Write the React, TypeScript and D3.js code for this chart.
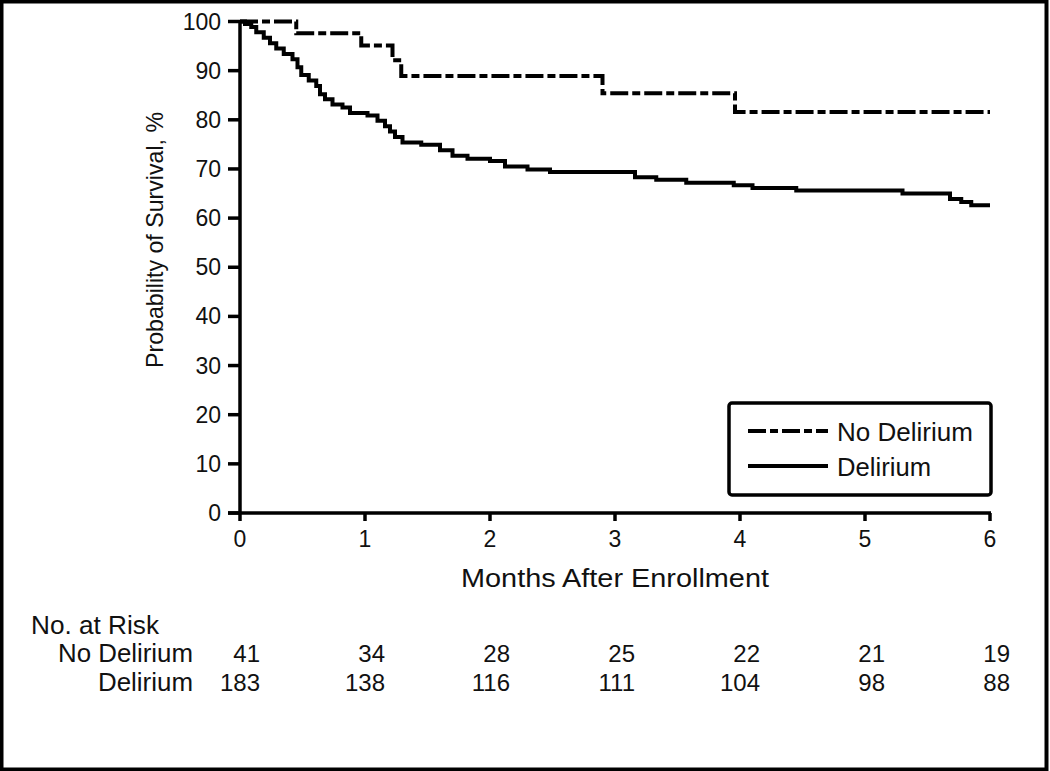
import { curveStepAfter, line, range, scaleLinear } from 'd3';

// Kaplan-Meier steps (months, % surviving)
const noDeliriumTimes = [0, 0.45, 0.97, 1.22, 1.29, 2.9, 3.96, 6];
const noDeliriumSurvival = [100, 97.6, 95.1, 92.1, 88.9, 85.4, 81.6, 81.6];

const deliriumTimes = [
  0, 0.04, 0.09, 0.13, 0.19, 0.24, 0.29, 0.35, 0.42, 0.46, 0.49, 0.55, 0.61, 0.64, 0.68,
  0.74, 0.82, 0.88, 1.02, 1.1, 1.16, 1.2, 1.24, 1.3, 1.45, 1.6, 1.7, 1.82, 2.0, 2.12,
  2.3, 2.48, 3.16, 3.33, 3.57, 3.95, 4.1, 4.45, 5.3, 5.68, 5.77, 5.85, 6,
];
const deliriumSurvival = [
  100, 99.5, 98.9, 97.8, 96.7, 95.6, 94.5, 93.4, 92.3, 90.7, 89.1, 88.0, 86.9, 85.2, 84.2,
  83.1, 82.5, 81.4, 80.9, 79.8, 78.7, 77.6, 76.5, 75.4, 74.9, 73.8, 72.7, 72.1, 71.6, 70.5,
  69.9, 69.4, 68.3, 67.8, 67.2, 66.7, 66.1, 65.6, 65.0, 63.9, 63.3, 62.6, 62.6,
];

const monthTicks = [0, 1, 2, 3, 4, 5, 6];
const survivalTicks = range(0, 101, 10);
const riskLabels = ['No Delirium', 'Delirium'];
const riskNoDelirium = [41, 34, 28, 25, 22, 21, 19];
const riskDelirium = [183, 138, 116, 111, 104, 98, 88];

const width = 1050;
const height = 771;
const margin = { top: 21.5, right: 60, bottom: 258, left: 240 };
const font = '"Liberation Sans", Arial, Helvetica, sans-serif';

type Pt = { t: number; s: number };

export default function App() {
  const x = scaleLinear().domain([0, 6]).range([margin.left, width - margin.right]);
  const y = scaleLinear().domain([0, 100]).range([height - margin.bottom, margin.top]);

  const toPts = (ts: number[], ss: number[]): Pt[] => ts.map((t, i) => ({ t, s: ss[i] }));
  const km = line<Pt>().x(d => x(d.t)).y(d => y(d.s)).curve(curveStepAfter);
  const noDelPath = km(toPts(noDeliriumTimes, noDeliriumSurvival)) ?? '';
  const delPath = km(toPts(deliriumTimes, deliriumSurvival)) ?? '';

  const x0 = y(0);
  const legend = { x: 729, y: 403, w: 262, h: 92 };
  const stretch = 'spacingAndGlyphs';

  return (
    <div style={{ position: 'fixed', left: 0, top: 0, width, height, background: '#fff' }}>
      <svg width={width} height={height} viewBox={`0 0 ${width} ${height}`} fontFamily={font}>
        <rect x={0} y={0} width={width} height={height} fill="#fff" />
        <rect x={1.5} y={1.5} width={width - 5} height={height - 3} fill="none" stroke="#000" strokeWidth={4} />

        {/* y axis */}
        <line x1={x(0)} x2={x(0)} y1={y(100)} y2={x0} stroke="#000" strokeWidth={3.5} />
        {survivalTicks.map(t => (
          <g key={t}>
            <line x1={x(0) - 12} x2={x(0)} y1={y(t)} y2={y(t)} stroke="#000" strokeWidth={3.5} />
            <text x={221} y={y(t) + 8} textAnchor="end" fontSize={23} fill="#111">{t}</text>
          </g>
        ))}
        <text
          transform={`translate(163, 240) rotate(-90)`}
          textAnchor="middle"
          fontSize={24}
          fill="#111"
          textLength={256}
          lengthAdjust={stretch}
        >
          Probability of Survival, %
        </text>

        {/* x axis */}
        <line x1={x(0) - 12} x2={x(6) + 1} y1={x0} y2={x0} stroke="#000" strokeWidth={3.5} />
        {monthTicks.map(t => (
          <g key={t}>
            <line x1={x(t)} x2={x(t)} y1={x0} y2={x0 + 8} stroke="#000" strokeWidth={3.5} />
            <text x={x(t)} y={x0 + 34} textAnchor="middle" fontSize={23} fill="#111">{t}</text>
          </g>
        ))}
        <text
          x={(x(0) + x(6)) / 2}
          y={587}
          textAnchor="middle"
          fontSize={26}
          fill="#111"
          textLength={308}
          lengthAdjust={stretch}
        >
          Months After Enrollment
        </text>

        {/* curves */}
        <path d={noDelPath} fill="none" stroke="#000" strokeWidth={4} strokeDasharray="18 4 8 4" />
        <path d={delPath} fill="none" stroke="#000" strokeWidth={4} />

        {/* legend */}
        <rect x={legend.x} y={legend.y} width={legend.w} height={legend.h} rx={3} fill="#fff" stroke="#000" strokeWidth={3.5} />
        <line x1={748} x2={828} y1={431} y2={431} stroke="#000" strokeWidth={4} strokeDasharray="18 4 8 4" />
        <line x1={748} x2={828} y1={466} y2={466} stroke="#000" strokeWidth={4} />
        <text x={837} y={441} fontSize={25} fill="#111" textLength={136} lengthAdjust={stretch}>No Delirium</text>
        <text x={837} y={476} fontSize={25} fill="#111" textLength={94} lengthAdjust={stretch}>Delirium</text>

        {/* number at risk */}
        <text x={31} y={634} fontSize={25} fill="#111" textLength={128} lengthAdjust={stretch}>No. at Risk</text>
        {riskLabels.map((label, r) => {
          const rowY = r === 0 ? 662 : 691;
          const counts = r === 0 ? riskNoDelirium : riskDelirium;
          const labelWidth = r === 0 ? 135 : 95;
          return (
            <g key={label}>
              <text x={193 - labelWidth} y={rowY} fontSize={25} fill="#111" textLength={labelWidth} lengthAdjust={stretch}>{label}</text>
              {counts.map((n, i) => (
                <text key={i} x={x(monthTicks[i]) + 20} y={rowY} textAnchor="end" fontSize={24} fill="#111">{n}</text>
              ))}
            </g>
          );
        })}
      </svg>
    </div>
  );
}
